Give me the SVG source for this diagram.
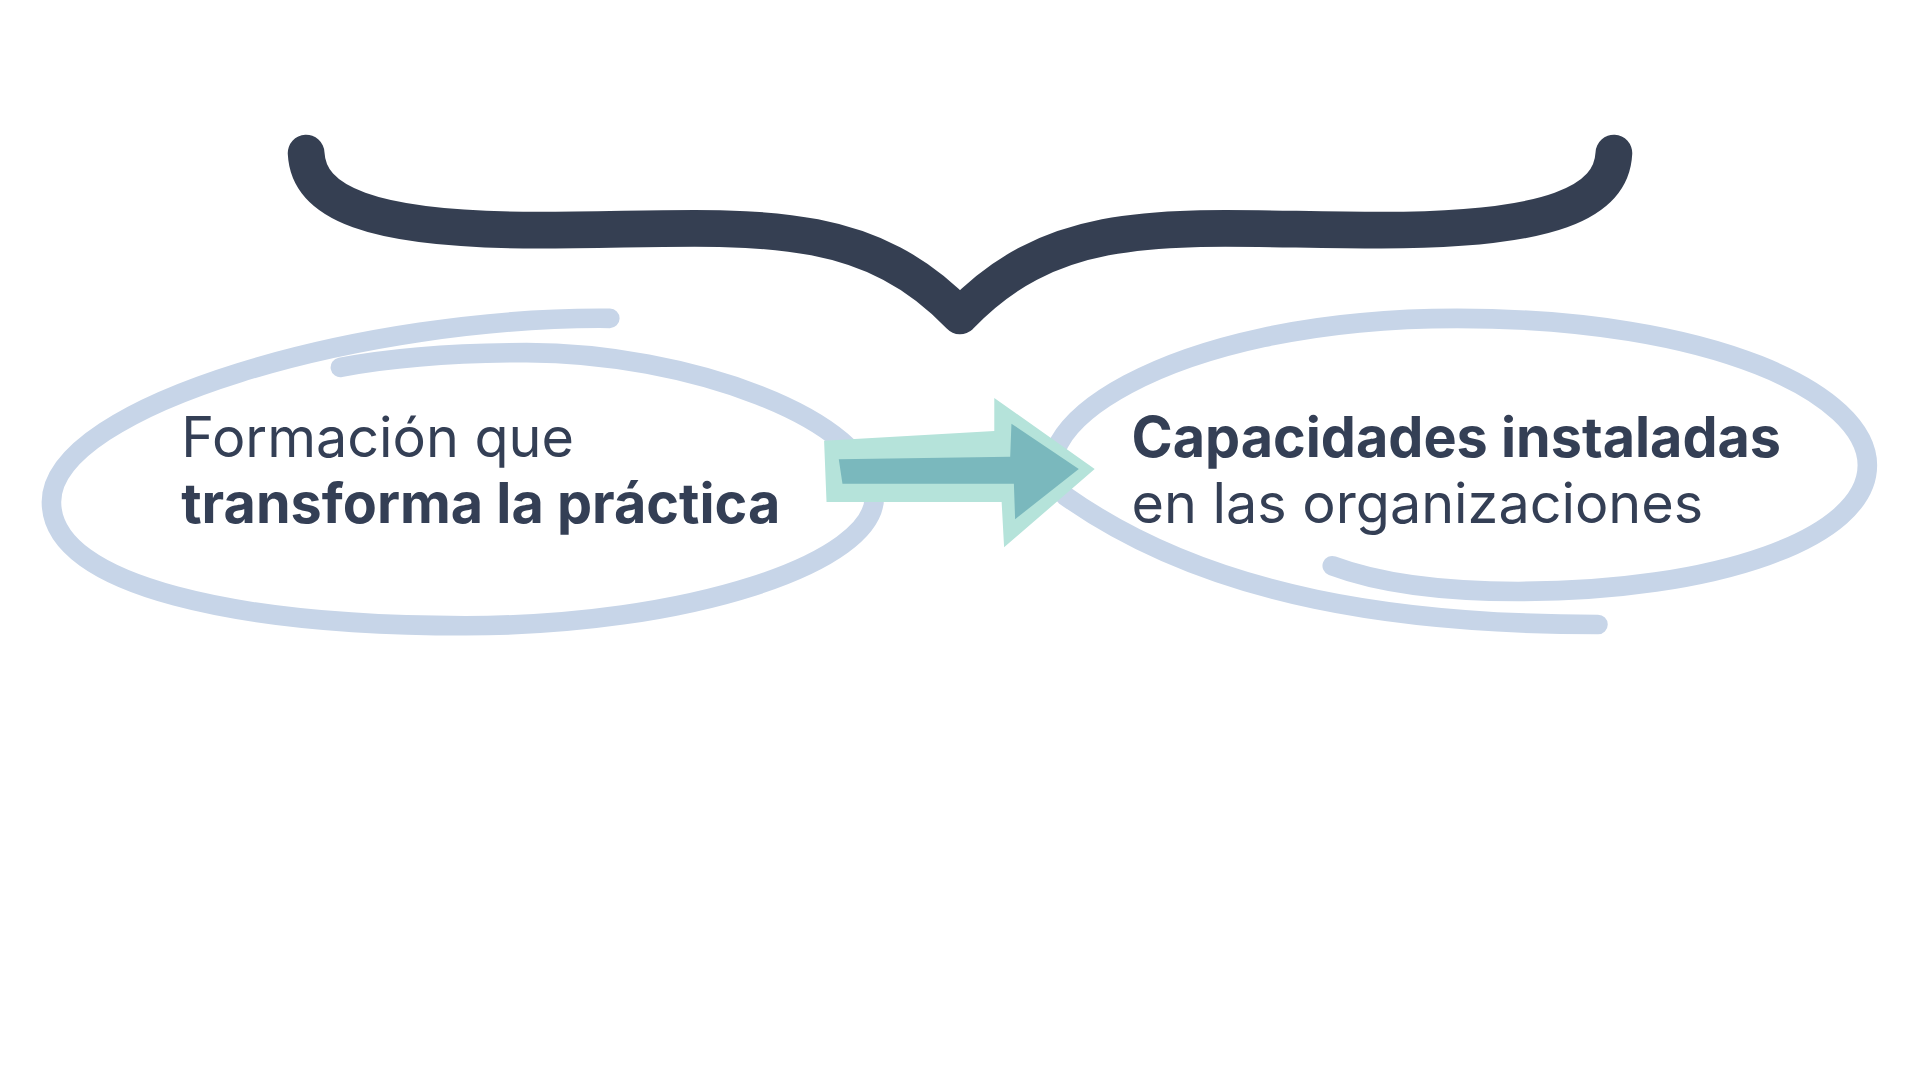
<svg xmlns="http://www.w3.org/2000/svg" width="1920" height="1080" viewBox="0 0 1920 1080">
<style>
.loop{fill:none;stroke:#c7d5e8;stroke-width:16;stroke-linecap:round}
.t{font-family:Inter,"Liberation Sans",sans-serif;font-size:45.5px;fill:#343f55}
.b{font-weight:700}
</style>
<rect width="1920" height="1080" fill="#fff"/>
<g transform="scale(1.2245)">
<g id="brace">
<path d="M250,125 C252,165 300,188 440,188 C600,188 700,170 784,258 C868,170 968,188 1128,188 C1268,188 1316,165 1318,125" fill="none" stroke="#353f52" stroke-width="30" stroke-linecap="round" stroke-linejoin="round"/>
</g>
<g id="left">
<path class="loop" d="M498,260 C300,258 42,330 42,410 C42,480 200,511 380,511 C560,511 716,460 714,405 C712,342 560,288 430,288 C360,288 310,294 278,300"/>
<text class="t" x="148" y="373">Formación que</text>
<text class="t b" x="148" y="427">transforma la práctica</text>
</g>
<g id="right">
<path class="loop" d="M1305,510 C1150,510 990,490 870,405 C820,355 950,260 1190,260 C1400,260 1525,322 1525,380 C1525,440 1400,483 1240,483 C1170,483 1120,474 1088,462"/>
<text class="t b" x="924" y="373">Capacidades instaladas</text>
<text class="t" x="924" y="427">en las organizaciones</text>
</g>
<g id="connectors">
<polygon points="673,360 812,352 812,325 894,383 820,447 818,410 675,410" fill="#b5e3da"/>
<polygon points="685,375 825,373 826,346 881,383 829,424 828,395 688,395" fill="#7ab8bd"/>
</g>
</g>
</svg>
